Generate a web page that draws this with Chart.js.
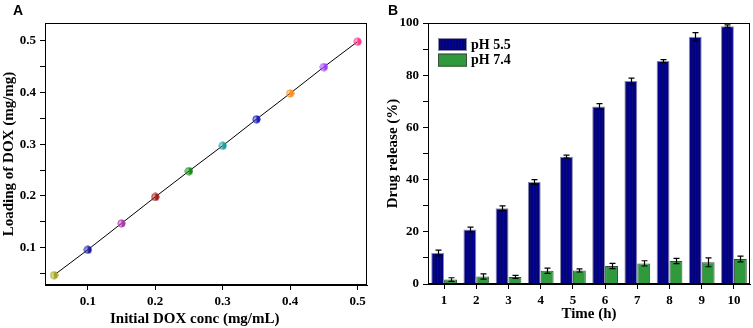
<!DOCTYPE html>
<html>
<head>
<meta charset="utf-8">
<script src="https://cdn.jsdelivr.net/npm/chart.js@4.4.0/dist/chart.umd.min.js"></script>
<style>
  html, body { margin: 0; padding: 0; background: #fff; }
  #wrap { position: relative; width: 753px; height: 328px; overflow: hidden; }
  #chart-a { position: absolute; left: 0; top: 0; }
  #chart-b { position: absolute; left: 375px; top: 0; }
  .tag { position: absolute; font: bold 14px "Liberation Sans", Arial, sans-serif; line-height: 14px; color: #000; }
</style>
</head>
<body>
<div id="wrap">
  <canvas id="chart-a" width="375" height="328"></canvas>
  <canvas id="chart-b" width="378" height="328"></canvas>
  <div class="tag" style="left:13px;top:3px">A</div>
  <div class="tag" style="left:388px;top:3px">B</div>
</div>
<script>
// ─── Painel A: carga de DOX ───────────────────────────────────────────────────
const concInicial = [0.05, 0.10, 0.15, 0.20, 0.25, 0.30, 0.35, 0.40, 0.45, 0.50];
const cargaDox    = [0.047, 0.096, 0.147, 0.198, 0.248, 0.297, 0.348, 0.398, 0.449, 0.498];
const coresPontos = ['#a3a31c', '#1c1caa', '#b03cb0', '#a31a1a', '#138c13',
                     '#1fa0a0', '#1e1ec4', '#ff8c1a', '#a040ff', '#ff3c90'];

// ─── Painel B: liberação do fármaco ───────────────────────────────────────────
const tempoH    = ['1', '2', '3', '4', '5', '6', '7', '8', '9', '10'];
const liberPH55 = [11.9, 20.9, 29.0, 39.1, 48.8, 68.0, 77.8, 85.4, 94.7, 98.8];
const erroPH55  = [1.1, 0.9, 0.9, 0.9, 0.6, 1.1, 1.1, 0.6, 1.6, 0.5];
const liberPH74 = [1.7, 2.9, 2.7, 5.1, 5.2, 6.9, 7.9, 8.8, 8.3, 9.6];
const erroPH74  = [0.7, 1.0, 0.6, 1.0, 0.6, 1.0, 1.0, 1.0, 1.7, 1.1];

// ─── Estilo geral ─────────────────────────────────────────────────────────────
const SERIF = '"Liberation Serif", "Times New Roman", serif';
Chart.defaults.font.family = SERIF;
Chart.defaults.font.weight = 'bold';
Chart.defaults.color = '#000';

const fonteTick   = { family: SERIF, size: 13, weight: 'bold' };
const fonteTitulo = { family: SERIF, size: 15, weight: 'bold' };

function eixoBase() {
  return {
    grid:   { drawOnChartArea: false, drawTicks: true, tickLength: 5, color: '#000', lineWidth: 1 },
    border: { display: true, color: '#000', width: 1 },
  };
}

// marcador meio cheio (metade esquerda clara, direita sólida)
function marcador(cor) {
  const c = document.createElement('canvas');
  c.width = 9; c.height = 9;
  const g = c.getContext('2d');
  g.fillStyle = cor;
  g.globalAlpha = 0.45;
  g.beginPath(); g.arc(4.5, 4.5, 3.8, 0, Math.PI * 2); g.fill();
  g.globalAlpha = 1;
  g.beginPath(); g.arc(4.5, 4.5, 3.8, -Math.PI / 2, Math.PI / 2); g.closePath(); g.fill();
  g.strokeStyle = cor; g.lineWidth = 0.8;
  g.beginPath(); g.arc(4.5, 4.5, 3.6, 0, Math.PI * 2); g.stroke();
  return c;
}

// barras com listras verticais finas
function listrado(base, linha) {
  const c = document.createElement('canvas');
  c.width = 3; c.height = 4;
  const g = c.getContext('2d');
  g.fillStyle = base;  g.fillRect(0, 0, 3, 4);
  g.fillStyle = linha; g.fillRect(2, 0, 1, 4);
  return g.createPattern(c, 'repeat');
}

// moldura fechada em volta da área do gráfico
const moldura = {
  id: 'moldura',
  afterDraw(chart) {
    const { ctx, chartArea: a } = chart;
    const l = Math.round(a.left) + 0.5, t = Math.round(a.top) + 0.5;
    const r = Math.round(a.right) - 0.5, b = Math.round(a.bottom) - 0.5;
    ctx.save();
    ctx.strokeStyle = '#000';
    ctx.lineWidth = 1;
    ctx.strokeRect(l, t, r - l, b - t);
    ctx.restore();
  },
};

// barras de erro a partir dos arrays de erro
const barrasErro = {
  id: 'barrasErro',
  afterDatasetsDraw(chart) {
    const { ctx, scales: { y } } = chart;
    ctx.save();
    ctx.strokeStyle = '#000';
    ctx.lineWidth = 1.2;
    chart.data.datasets.forEach((ds, i) => {
      const meta = chart.getDatasetMeta(i);
      meta.data.forEach((bar, j) => {
        const v = ds.data[j], e = ds.erros[j];
        const x = Math.round(bar.x) + 0.5;
        const yt = y.getPixelForValue(v + e);
        const yb = y.getPixelForValue(v - e);
        ctx.beginPath();
        ctx.moveTo(x, yt); ctx.lineTo(x, yb);
        ctx.moveTo(x - 3, yt); ctx.lineTo(x + 3, yt);
        ctx.moveTo(x - 3, yb); ctx.lineTo(x + 3, yb);
        ctx.stroke();
      });
    });
    ctx.restore();
  },
};

// legenda dentro da área do gráfico, no canto superior esquerdo
const legendaInterna = {
  id: 'legendaInterna',
  afterDraw(chart) {
    const { ctx, chartArea: a } = chart;
    ctx.save();
    ctx.font = `bold 14px ${SERIF}`;
    ctx.textBaseline = 'middle';
    ctx.fillStyle = '#000';
    chart.data.datasets.forEach((ds, i) => {
      const x = a.left + 10, y = a.top + 15 + i * 15.6;
      ctx.fillStyle = ds.backgroundColor;
      ctx.fillRect(x, y, 29, 13);
      ctx.strokeStyle = ds.borderColor;
      ctx.lineWidth = 1;
      ctx.strokeRect(x + 0.5, y + 0.5, 28, 12);
      ctx.fillStyle = '#000';
      ctx.fillText(ds.label, x + 33, y + 7);
    });
    ctx.restore();
  },
};

// ─── Gráfico A ────────────────────────────────────────────────────────────────
const eixoXA = eixoBase();
const eixoYA = eixoBase();

new Chart(document.getElementById('chart-a'), {
  type: 'scatter',
  data: {
    datasets: [{
      data: concInicial.map((x, i) => ({ x, y: cargaDox[i] })),
      showLine: true,
      borderColor: '#000',
      borderWidth: 1,
      pointStyle: coresPontos.map(marcador),
      pointRadius: 4,
      pointHoverRadius: 4,
    }],
  },
  options: {
    responsive: false,
    animation: false,
    layout: { padding: { top: 23, right: 8, left: 0, bottom: 0 } },
    plugins: { legend: { display: false }, tooltip: { enabled: false } },
    scales: {
      x: {
        ...eixoXA,
        type: 'linear',
        min: 0.0366, max: 0.514,
        afterFit: s => { s.height = 43; },
        ticks: { stepSize: 0.1, includeBounds: false, padding: 4, font: fonteTick,
                 maxRotation: 0, callback: v => v.toFixed(1) },
        title: { display: true, text: 'Initial DOX conc (mg/mL)\u00a0\u00a0\u00a0\u00a0\u00a0\u00a0',
                 font: fonteTitulo, padding: { top: 0, bottom: 0 } },
      },
      y: {
        ...eixoYA,
        min: 0.028, max: 0.534,
        afterFit: s => { s.width = 45; },
        ticks: { stepSize: 0.05, includeBounds: false, padding: 4, font: fonteTick,
                 callback: v => Math.abs(v * 10 - Math.round(v * 10)) < 1e-6 ? v.toFixed(1) : '' },
        title: { display: true, text: 'Loading of DOX (mg/mg)', font: fonteTitulo,
                 padding: { top: 0, bottom: 0 } },
      },
    },
  },
  plugins: [moldura],
});

// ─── Gráfico B ────────────────────────────────────────────────────────────────
const eixoXB = eixoBase();
const eixoYB = eixoBase();

new Chart(document.getElementById('chart-b'), {
  type: 'bar',
  data: {
    labels: tempoH,
    datasets: [
      { label: 'pH 5.5', data: liberPH55, erros: erroPH55,
        backgroundColor: listrado('#00008c', '#0a0a6e'), borderColor: '#8c8ca8', borderWidth: 1 },
      { label: 'pH 7.4', data: liberPH74, erros: erroPH74,
        backgroundColor: '#2e9a3c', borderColor: '#3d4d3d', borderWidth: 1 },
    ],
  },
  options: {
    responsive: false,
    animation: false,
    layout: { padding: { top: 23, right: 3, left: 0, bottom: 0 } },
    datasets: { bar: { categoryPercentage: 0.8, barPercentage: 1.0 } },
    plugins: { legend: { display: false }, tooltip: { enabled: false } },
    scales: {
      x: {
        ...eixoXB,
        grid: { ...eixoXB.grid, offset: false },
        afterFit: s => { s.height = 44; },
        ticks: { padding: 4, font: fonteTick, maxRotation: 0 },
        title: { display: true, text: 'Time (h)', font: fonteTitulo, padding: { top: 0, bottom: 5 } },
      },
      y: {
        ...eixoYB,
        min: 0, max: 100,
        afterFit: s => { s.width = 53; },
        ticks: { stepSize: 10, padding: 4, font: fonteTick,
                 callback: v => v % 20 === 0 ? v : '' },
        title: { display: true, text: 'Drug release (%)', font: fonteTitulo,
                 padding: { top: 9, bottom: 0 } },
      },
    },
  },
  plugins: [barrasErro, moldura, legendaInterna],
});
</script>
</body>
</html>
